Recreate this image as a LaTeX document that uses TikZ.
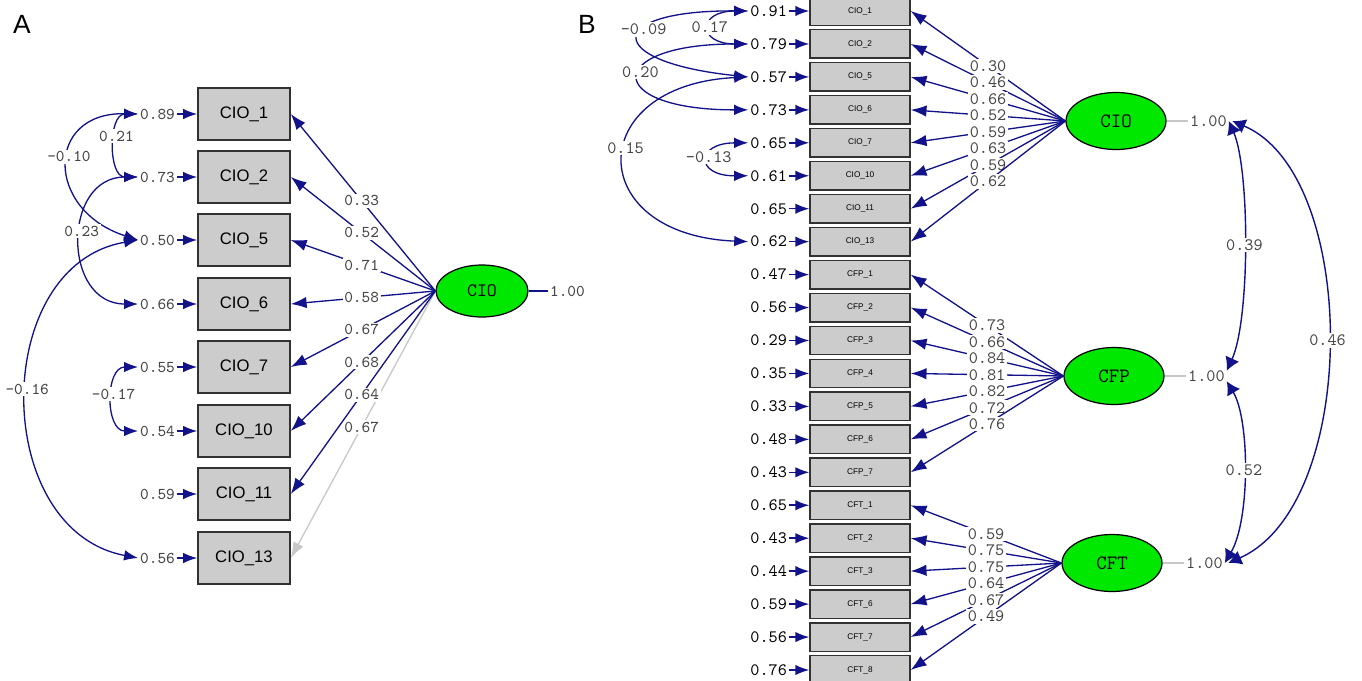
\documentclass[tikz,border=0pt]{standalone}
\usepackage{fontspec}
\setmainfont{Liberation Sans}
\setsansfont{Liberation Sans}
\usepackage{tikz}
\usetikzlibrary{shapes.geometric, arrows.meta}
\usetikzlibrary{positioning}
\definecolor{pathblue}{RGB}{18,18,138}
\definecolor{latentgreen}{RGB}{0,232,0}
\definecolor{boxgray}{RGB}{204,204,204}
\definecolor{edgegray}{RGB}{50,50,50}
\definecolor{numgray}{RGB}{70,70,70}
\definecolor{fadegray}{RGB}{200,200,200}
\tikzstyle{obsA} = [rectangle, draw=edgegray, line width=0.9pt, fill=boxgray, minimum width=1.84cm, minimum height=1.04cm, inner sep=0pt, font=\sffamily\fontsize{9.5}{10}\selectfont]
\tikzstyle{obsB} = [obsA, minimum width=2cm, minimum height=0.57cm, line width=0.8pt, font=\sffamily\fontsize{4.7}{5}\selectfont]
\tikzstyle{latent} = [ellipse, draw=black, line width=0.7pt, fill=latentgreen, inner sep=0pt, font=\ttfamily\fontsize{10.8}{11}\selectfont]
\tikzstyle{numA} = [inner sep=1pt, text=numgray, font=\ttfamily\fontsize{9.4}{10}\selectfont]
\tikzstyle{numB} = [inner sep=1pt, text=black, font=\ttfamily\fontsize{9.9}{10}\selectfont]
\tikzstyle{err} = [line width=0.9pt, pathblue, -{Latex[length=8pt,width=6pt]}]
\tikzstyle{load} = [line width=0.75pt, pathblue, -{Latex[length=9pt,width=6.5pt]}]
\tikzstyle{cov} = [line width=0.75pt, pathblue, {Latex[length=8pt,width=6pt]}-{Latex[length=8pt,width=6pt]}]
\tikzstyle{bigcov} = [line width=0.8pt, pathblue, {Latex[length=7.5pt,width=8.5pt]}-{Latex[length=7.5pt,width=8.5pt]}]
\begin{document}
\begin{tikzpicture}[x=0.02cm, y=-0.02cm]
\useasboundingbox (0,0) rectangle (1362,680);
\node[font=\sffamily\fontsize{15}{16}\selectfont] (panelA) at (22,24) {A};
\node[font=\sffamily\fontsize{15}{16}\selectfont] (panelB) at (587,24) {B};
% panel A
\foreach \n/\y/\e in {1/114/0.89, 2/177/0.73, 5/240/0.50, 6/304/0.66, 7/367/0.55, 10/431/0.54, 11/494/0.59, 13/558/0.56} {
  \node[obsA] (A\n) at (244,\y) {CIO\_\n};
  \node[numA, anchor=east] (eA\n) at (177,\y) {\e};
  \draw[err] (eA\n) -- (A\n);
}
\node[latent, minimum width=1.84cm, minimum height=1.04cm] (cioA) at (482,291) {CIO};
\node[numA, anchor=west] (vA) at (548,291) {1.00};
\draw[line width=0.8pt, pathblue] (cioA.east) -- (vA.west);
\draw[load, fadegray] (cioA.west) -- node[pos=0.51, numA, fill=white] {0.67} (A13.east);
\foreach \n/\l in {1/0.33, 2/0.52, 5/0.71, 6/0.58, 7/0.67, 10/0.68, 11/0.64}
  \draw[load] (cioA.west) -- node[pos=0.51, numA, fill=white] {\l} (A\n.east);
\draw[cov] (eA1.west) .. controls (45,112) and (45,210) .. node[pos=0.45, numA, fill=white] {-0.10} (eA5.west);
\draw[cov] (eA1.west) .. controls (108,114) and (108,177) .. node[pos=0.4, numA, fill=white] {0.21} (eA2.west);
\draw[cov] (eA2.west) .. controls (62,177) and (62,304) .. node[pos=0.45, numA, fill=white] {0.23} (eA6.west);
\draw[cov] (eA5.west) .. controls (-10,265) and (-10,530) .. node[pos=0.48, numA, fill=white] {-0.16} (eA13.west);
\draw[cov] (eA7.west) .. controls (105,367) and (105,431) .. node[pos=0.45, numA, fill=white] {-0.17} (eA10.west);
% panel B
\foreach \f/\k/\e [count=\i from 0] in {CIO/1/0.91, CIO/2/0.79, CIO/5/0.57, CIO/6/0.73, CIO/7/0.65, CIO/10/0.61, CIO/11/0.65, CIO/13/0.62, CFP/1/0.47, CFP/2/0.56, CFP/3/0.29, CFP/4/0.35, CFP/5/0.33, CFP/6/0.48, CFP/7/0.43, CFT/1/0.65, CFT/2/0.43, CFT/3/0.44, CFT/6/0.59, CFT/7/0.56, CFT/8/0.76} {
  \node[obsB] (B\f\k) at (860,{11+32.95*\i}) {\f\_\k};
  \node[numB, anchor=east] (eB\f\k) at (789,{11+32.95*\i}) {\e};
  \draw[err] (eB\f\k) -- (B\f\k);
}
\node[latent, minimum width=2cm, minimum height=1.14cm, font=\ttfamily\fontsize{11.6}{12}\selectfont] (cioB) at (1116,121) {CIO};
\node[latent, minimum width=2cm, minimum height=1.14cm, font=\ttfamily\fontsize{11.6}{12}\selectfont] (cfpB) at (1114,376) {CFP};
\node[latent, minimum width=2cm, minimum height=1.14cm, font=\ttfamily\fontsize{11.6}{12}\selectfont] (cftB) at (1112,563) {CFT};
\node[numB, text=numgray, anchor=west] (vcio) at (1188,121) {1.00};
\node[numB, text=numgray, anchor=west] (vcfp) at (1186,376) {1.00};
\node[numB, text=numgray, anchor=west] (vcft) at (1184,563) {1.00};
\draw[line width=0.8pt, fadegray] (cioB.east) -- (vcio.west);
\draw[line width=0.8pt, fadegray] (cfpB.east) -- (vcfp.west);
\draw[line width=0.8pt, fadegray] (cftB.east) -- (vcft.west);
\foreach \k/\l in {1/0.30, 2/0.46, 5/0.66, 6/0.52, 7/0.59, 10/0.63, 11/0.59, 13/0.62}
  \draw[load] (cioB.west) -- node[pos=0.5, numB, text=numgray, fill=white] {\l} (BCIO\k.east);
\foreach \k/\l in {1/0.73, 2/0.66, 3/0.84, 4/0.81, 5/0.82, 6/0.72, 7/0.76}
  \draw[load] (cfpB.west) -- node[pos=0.5, numB, text=numgray, fill=white] {\l} (BCFP\k.east);
\foreach \k/\l in {1/0.59, 2/0.75, 3/0.75, 6/0.64, 7/0.67, 8/0.49}
  \draw[load] (cftB.west) -- node[pos=0.5, numB, text=numgray, fill=white] {\l} (BCFT\k.east);
\draw[cov] (eBCIO1.west) .. controls (603,10) and (603,62) .. node[pos=0.4, numB, text=numgray, fill=white] {-0.09} (eBCIO5.west);
\draw[cov] (eBCIO1.west) .. controls (697,11) and (697,44) .. node[pos=0.5, numB, text=numgray, fill=white] {0.17} (eBCIO2.west);
\draw[cov] (eBCIO2.west) .. controls (603,44) and (603,110) .. node[pos=0.45, numB, text=numgray, fill=white] {0.20} (eBCIO6.west);
\draw[cov] (eBCIO5.west) .. controls (583,85) and (583,235) .. node[pos=0.45, numB, text=numgray, fill=white] {0.15} (eBCIO13.west);
\draw[cov] (eBCIO7.west) .. controls (695,143) and (695,176) .. node[pos=0.45, numB, text=numgray, fill=white] {-0.13} (eBCIO10.west);
% factor correlations
\draw[bigcov] (vcio.east) .. controls (1250,170) and (1250,320) .. node[numB, text=numgray, fill=white] {0.39} ([yshift=3pt]vcfp.east);
\draw[bigcov] ([yshift=-3pt]vcfp.east) .. controls (1250,420) and (1250,520) .. node[numB, text=numgray, fill=white] {0.52} (vcft.east);
\draw[bigcov] ([xshift=2pt]vcio.east) .. controls (1360,175) and (1360,505) .. node[numB, text=numgray, fill=white] {0.46} ([xshift=2pt]vcft.east);
\end{tikzpicture}
\end{document}
